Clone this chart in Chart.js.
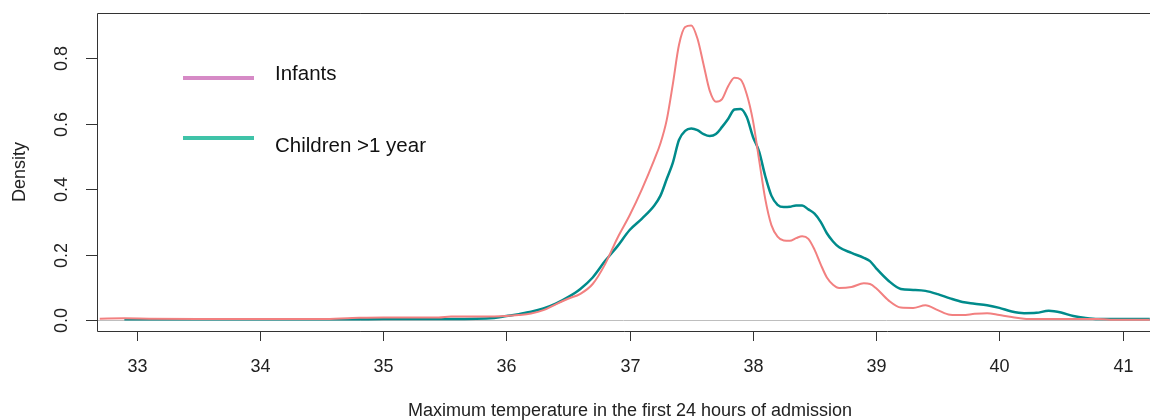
<!DOCTYPE html>
<html>
<head>
<meta charset="utf-8">
<script src="https://cdn.jsdelivr.net/npm/chart.js@4"></script>
<style>
  html, body { margin: 0; padding: 0; background: #fff; }
  #wrap { width: 1150px; height: 420px; }
</style>
</head>
<body>
<div id="wrap"><canvas id="chart" width="1150" height="420"></canvas></div>
<script>
// Temperaturas (eje x) y densidades
const temps = [32.7, 32.9, 33.1, 33.5, 34.0, 34.5, 34.75, 35.0, 35.45, 35.55, 35.9,
  36.0, 36.1, 36.2, 36.3, 36.4, 36.5, 36.6, 36.7, 36.8, 36.9,
  37.0, 37.1, 37.2, 37.25, 37.3, 37.35, 37.4, 37.45, 37.5, 37.55, 37.6, 37.65, 37.7, 37.75,
  37.8, 37.85, 37.9, 37.95, 38.0, 38.05, 38.1, 38.15, 38.2, 38.25, 38.3, 38.35, 38.4, 38.45,
  38.5, 38.55, 38.6, 38.65, 38.7, 38.8, 38.9, 38.95, 39.0, 39.1, 39.2, 39.3, 39.4, 39.5,
  39.6, 39.7, 39.8, 39.9, 40.0, 40.1, 40.2, 40.3, 40.4, 40.5, 40.6, 40.7, 40.8, 40.9, 41.0, 41.22];

const infants = [0.004, 0.005, 0.004, 0.003, 0.003, 0.003, 0.006, 0.008, 0.008, 0.011, 0.011,
  0.012, 0.015, 0.02, 0.03, 0.048, 0.065, 0.08, 0.11, 0.17, 0.25,
  0.32, 0.40, 0.49, 0.54, 0.61, 0.72, 0.84, 0.895, 0.9, 0.86, 0.78, 0.70, 0.667, 0.675,
  0.715, 0.74, 0.735, 0.69, 0.61, 0.49, 0.37, 0.29, 0.255, 0.243, 0.242, 0.25, 0.256, 0.248,
  0.215, 0.17, 0.13, 0.108, 0.098, 0.101, 0.112, 0.11, 0.097, 0.06, 0.038, 0.037, 0.045, 0.03,
  0.016, 0.015, 0.019, 0.021, 0.015, 0.009, 0.004, 0.003, 0.003, 0.003, 0.003, 0.003, 0.003, 0.001, 0.001, 0.001];

const children = [null, 0.002, 0.002, 0.002, 0.002, 0.002, 0.002, 0.003, 0.003, 0.003, 0.006,
  0.012, 0.018, 0.025, 0.035, 0.05, 0.07, 0.095, 0.13, 0.18, 0.225,
  0.275, 0.31, 0.35, 0.38, 0.43, 0.48, 0.55, 0.578, 0.585, 0.58, 0.568, 0.562, 0.568, 0.59,
  0.615, 0.643, 0.645, 0.62, 0.56, 0.515, 0.44, 0.38, 0.352, 0.345, 0.346, 0.35, 0.35, 0.338,
  0.325, 0.3, 0.265, 0.24, 0.222, 0.205, 0.19, 0.18, 0.158, 0.12, 0.095, 0.092, 0.089, 0.079,
  0.066, 0.055, 0.05, 0.045, 0.037, 0.026, 0.021, 0.022, 0.028, 0.023, 0.012, 0.006, 0.003, 0.003, 0.003, 0.003];

const xTicks = [33, 34, 35, 36, 37, 38, 39, 40, 41];
const yTicks = [0.0, 0.2, 0.4, 0.6, 0.8];
const yTickLabels = ['0.0', '0.2', '0.4', '0.6', '0.8'];

const legendItems = [
  { label: 'Infants', color: '#d68ac6' },
  { label: 'Children >1 year', color: '#3fc3a8' },
];

const FONT = '"Liberation Sans", Arial, sans-serif';

// Ejes estilo R: caja, marcas, etiquetas rotadas, línea en cero y leyenda
const rAxes = {
  id: 'rAxes',
  beforeDatasetsDraw(chart) {
    const { ctx, chartArea: a, scales: { y } } = chart;
    const y0 = y.getPixelForValue(0);
    ctx.save();
    ctx.strokeStyle = '#bebebe';
    ctx.lineWidth = 1;
    ctx.beginPath();
    ctx.moveTo(a.left, y0 + 0.5);
    ctx.lineTo(a.right, y0 + 0.5);
    ctx.stroke();
    ctx.restore();
  },
  afterDraw(chart) {
    const { ctx, chartArea: a, scales: { x, y } } = chart;
    ctx.save();
    ctx.strokeStyle = '#333';
    ctx.lineWidth = 1;
    ctx.beginPath();
    ctx.moveTo(a.right + 2, a.top + 0.5);
    ctx.lineTo(a.left + 0.5, a.top + 0.5);
    ctx.lineTo(a.left + 0.5, a.bottom + 0.5);
    ctx.lineTo(a.right + 2, a.bottom + 0.5);
    ctx.stroke();

    ctx.fillStyle = '#222';
    ctx.font = `18px ${FONT}`;
    // eje x
    ctx.textAlign = 'center';
    ctx.textBaseline = 'middle';
    xTicks.forEach((t) => {
      const px = Math.round(x.getPixelForValue(t)) + 0.5;
      ctx.beginPath();
      ctx.moveTo(px, a.bottom);
      ctx.lineTo(px, a.bottom + 10);
      ctx.stroke();
      ctx.fillText(String(t), px, a.bottom + 36);
    });
    // eje y
    yTicks.forEach((t, i) => {
      const py = Math.round(y.getPixelForValue(t)) + 0.5;
      ctx.beginPath();
      ctx.moveTo(a.left - 11, py);
      ctx.lineTo(a.left, py);
      ctx.stroke();
      ctx.save();
      ctx.translate(a.left - 35, py);
      ctx.rotate(-Math.PI / 2);
      ctx.fillText(yTickLabels[i], 0, 0);
      ctx.restore();
    });
    // títulos
    ctx.fillText('Maximum temperature in the first 24 hours of admission', 630, 411);
    ctx.save();
    ctx.translate(20, 172);
    ctx.rotate(-Math.PI / 2);
    ctx.fillText('Density', 0, 0);
    ctx.restore();

    // leyenda
    ctx.font = `20.5px ${FONT}`;
    ctx.textAlign = 'left';
    const rows = [{ ly: 78, ty: 74 }, { ly: 138, ty: 146 }];
    legendItems.forEach((it, i) => {
      ctx.strokeStyle = it.color;
      ctx.lineWidth = 4;
      ctx.beginPath();
      ctx.moveTo(183, rows[i].ly);
      ctx.lineTo(254, rows[i].ly);
      ctx.stroke();
      ctx.fillStyle = '#111';
      ctx.fillText(it.label, 275, rows[i].ty);
    });
    ctx.restore();
  },
};

new Chart(document.getElementById('chart'), {
  type: 'line',
  data: {
    datasets: [
      {
        label: 'Infants',
        data: temps.map((t, i) => ({ x: t, y: infants[i] })),
        borderColor: '#f28080',
        borderWidth: 2,
        pointRadius: 0,
        cubicInterpolationMode: 'monotone',
      },
      {
        label: 'Children >1 year',
        data: temps.map((t, i) => ({ x: t, y: children[i] })),
        borderColor: '#008b8b',
        borderWidth: 2.5,
        pointRadius: 0,
        cubicInterpolationMode: 'monotone',
      },
    ],
  },
  options: {
    responsive: false,
    animation: false,
    layout: { padding: { left: 97, top: 13, right: 0, bottom: 89 } },
    plugins: { legend: { display: false }, tooltip: { enabled: false } },
    scales: {
      x: { type: 'linear', display: false, min: 32.678, max: 41.222 },
      y: { display: false, min: -0.0336, max: 0.938 },
    },
  },
  plugins: [rAxes],
});
</script>
</body>
</html>
